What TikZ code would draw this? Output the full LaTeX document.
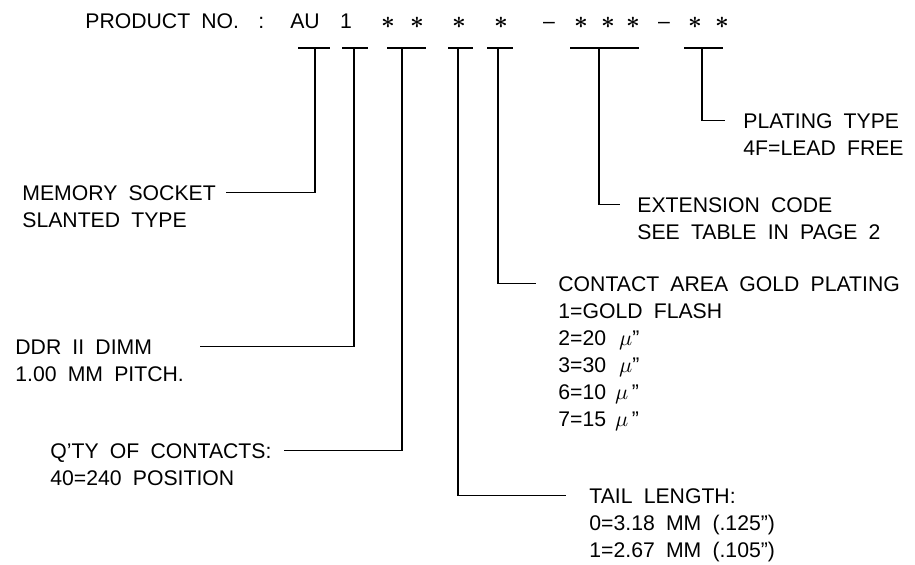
\documentclass[tikz,border=0pt]{standalone}
\usepackage{fontspec}
\setmainfont{Liberation Sans}[WordSpace=1.9]
\usetikzlibrary{positioning}
\tikzset{
  cad/.style={font=\fontsize{10.6}{13.5}\selectfont, inner sep=0pt},
  head/.style={cad, text height=7.6pt, text depth=0pt},
  body/.style={cad, align=left},
  lead/.style={line width=0.65pt},
}
\newcommand{\cstar}{{\large\boldmath$\ast$}}

\begin{document}
\begin{tikzpicture}[x=0.5pt, y=-0.5pt]
  \useasboundingbox (0,0) rectangle (915,564);

  % product number
  \node[cad, anchor=base west] (prod) at (85,28) {PRODUCT NO.\hspace{4pt} :};
  \foreach \nm/\xc/\ch in {au/305/AU, one/346/1, q1/388/\cstar, q2/417/\cstar,
      tl/459/\cstar, gd/501/\cstar, d1/549/--, e1/581/\cstar, e2/608/\cstar,
      e3/633/\cstar, d2/664/--, p1/695/\cstar, p2/722/\cstar}
    \node[cad, anchor=base] (\nm) at (\xc,28) {\ch};

  % tee bars under the code
  \foreach \nm/\xc/\xl/\xr in {au/315/298/330, one/354/342/368, qty/402/387/426,
      tail/458/448/473, gold/498/487/513, ext/599/570/639, plat/702/684/723} {
    \coordinate (t\nm) at (\xc,48);
    \draw[lead] (\xl,48) -- (\xr,48);
  }

  % left side
  \node[head, anchor=base west] (memhead) at (22,200) {MEMORY SOCKET};
  \node[body, below=5.9pt of memhead.south west, anchor=north west] (membody) {SLANTED TYPE};
  \draw[lead] (tau) |- ([xshift=5pt]memhead.east);

  \node[head, anchor=base west] (ddrhead) at (15,354) {DDR II DIMM};
  \node[body, below=5.9pt of ddrhead.south west, anchor=north west] (ddrbody) {1.00 MM PITCH.};
  \draw[lead] (tone) |- ([xshift=24pt]ddrhead.east);

  \node[head, anchor=base west] (qtyhead) at (50,458) {Q'TY OF CONTACTS:};
  \node[body, below=5.9pt of qtyhead.south west, anchor=north west] (qtybody) {40=240 POSITION};
  \draw[lead] (tqty) |- ([xshift=6pt]qtyhead.east);

  % right side
  \node[head, anchor=base west] (plathead) at (743,128) {PLATING TYPE};
  \node[body, below=5.9pt of plathead.south west, anchor=north west] (platbody) {4F=LEAD FREE};
  \draw[lead] (tplat) |- ([xshift=-9pt]plathead.west);

  \node[head, anchor=base west] (exthead) at (637,212) {EXTENSION CODE};
  \node[body, below=5.9pt of exthead.south west, anchor=north west] (extbody) {SEE TABLE IN PAGE 2};
  \draw[lead] (text) |- ([xshift=-8.5pt]exthead.west);

  \node[head, anchor=base west] (goldhead) at (558,291) {CONTACT AREA GOLD PLATING};
  \node[body, below=5.9pt of goldhead.south west, anchor=north west] (goldbody)
    {1=GOLD FLASH\\2=20\hspace{6.5pt}$\mu$''\\3=30\hspace{6.5pt}$\mu$''\\
     6=10\hspace{4.5pt}$\mu$\,''\\7=15\hspace{4.5pt}$\mu$\,''};
  \draw[lead] (tgold) |- ([xshift=-11pt]goldhead.west);

  \node[head, anchor=base west] (tailhead) at (589,503) {TAIL LENGTH:};
  \node[body, below=5.9pt of tailhead.south west, anchor=north west] (tailbody)
    {0=3.18 MM (.125'')\\1=2.67 MM (.105'')};
  \draw[lead] (ttail) |- ([xshift=-11.5pt]tailhead.west);
\end{tikzpicture}
\end{document}
